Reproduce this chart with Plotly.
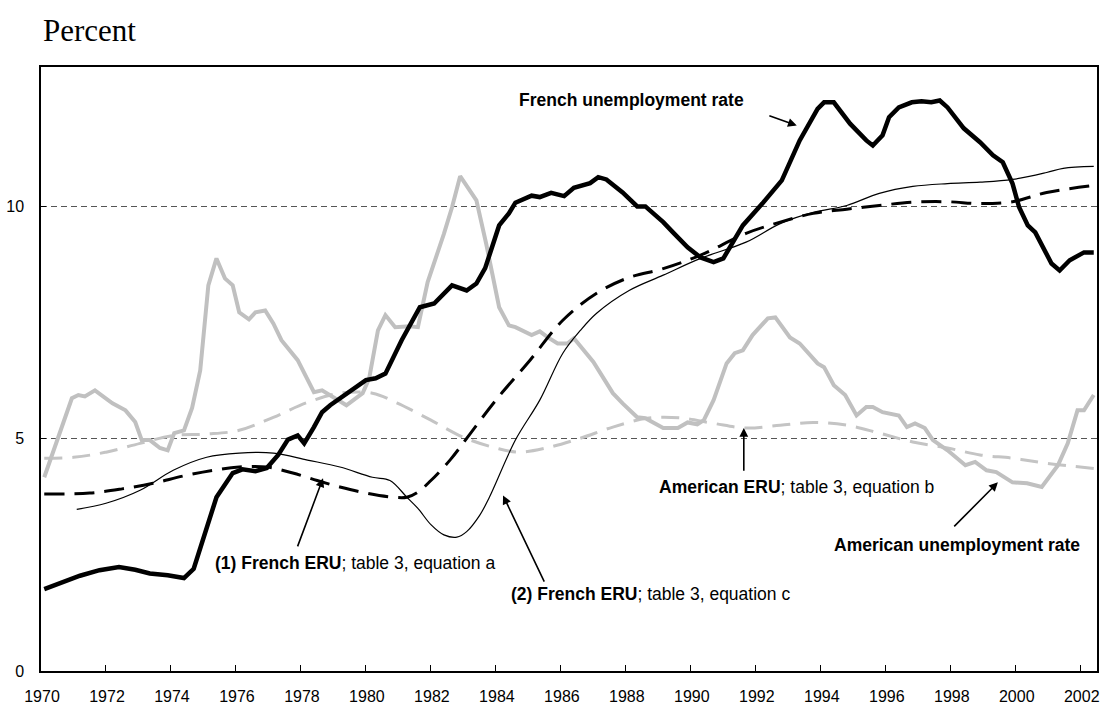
import plotly.graph_objects as go

SANS = "Liberation Sans Narrow, Arial Narrow, Liberation Sans, Arial, sans-serif"
SERIF = "Liberation Serif, Times New Roman, serif"

# French unemployment rate (thick black)
fr_years = [1970.1, 1970.6, 1971.2, 1971.8, 1972.4, 1972.9, 1973.35, 1973.9, 1974.4, 1974.7,
            1975.0, 1975.4, 1975.9, 1976.2, 1976.6, 1976.95, 1977.3, 1977.6, 1977.9, 1978.1,
            1978.4, 1978.65, 1978.9, 1979.27, 1979.7, 1980.0, 1980.3, 1980.6, 1981.1, 1981.66,
            1982.1, 1982.65, 1983.1, 1983.4, 1983.67, 1984.1, 1984.4, 1984.6, 1985.1, 1985.35,
            1985.7, 1986.1, 1986.4, 1986.9, 1987.15, 1987.4, 1987.9, 1988.35, 1988.6, 1989.15,
            1989.45, 1989.9, 1990.3, 1990.7, 1991.0, 1991.2, 1991.6, 1992.2, 1992.8, 1993.35,
            1993.9, 1994.1, 1994.4, 1994.9, 1995.1, 1995.4, 1995.6, 1995.9, 1996.1, 1996.4,
            1996.8, 1997.1, 1997.4, 1997.66, 1997.9, 1998.4, 1998.9, 1999.3, 1999.6, 1999.9,
            2000.1, 2000.37, 2000.6, 2001.1, 2001.35, 2001.66, 2002.1, 2002.4]
fr_rate = [1.76, 1.9, 2.05, 2.17, 2.24, 2.18, 2.1, 2.06, 2.0, 2.2,
           2.88, 3.74, 4.26, 4.34, 4.3, 4.37, 4.65, 4.98, 5.07, 4.9,
           5.25, 5.57, 5.72, 5.9, 6.1, 6.26, 6.3, 6.4, 7.12, 7.83,
           7.91, 8.3, 8.19, 8.34, 8.67, 9.59, 9.85, 10.08, 10.23, 10.2,
           10.29, 10.22, 10.4, 10.5, 10.63, 10.58, 10.3, 10.0, 10.0, 9.66,
           9.44, 9.12, 8.9, 8.8, 8.88, 9.12, 9.59, 10.06, 10.56, 11.42,
           12.1, 12.24, 12.24, 11.78, 11.63, 11.42, 11.31, 11.53, 11.92, 12.13,
           12.24, 12.26, 12.24, 12.28, 12.13, 11.68, 11.38, 11.1, 10.95, 10.49,
           9.99, 9.59, 9.44, 8.77, 8.62, 8.84, 9.01, 9.01]

# American unemployment rate (thick grey)
us_years = [1970.1, 1970.37, 1970.95, 1971.15, 1971.35, 1971.66, 1972.2, 1972.6, 1972.9, 1973.1,
            1973.35, 1973.66, 1973.9, 1974.1, 1974.4, 1974.65, 1974.9, 1975.15, 1975.4, 1975.66,
            1975.9, 1976.1, 1976.4, 1976.6, 1976.9, 1977.15, 1977.4, 1977.9, 1978.4, 1978.65,
            1978.9, 1979.4, 1979.9, 1980.1, 1980.37, 1980.6, 1980.9, 1981.35, 1981.6, 1981.9,
            1982.4, 1982.65, 1982.9, 1983.4, 1983.7, 1984.1, 1984.4, 1984.6, 1985.1, 1985.35,
            1985.6, 1985.9, 1986.2, 1986.4, 1987.0, 1987.6, 1987.9, 1988.35, 1988.6, 1989.15,
            1989.6, 1989.9, 1990.2, 1990.4, 1990.7, 1991.1, 1991.35, 1991.6, 1991.9, 1992.37,
            1992.6, 1993.05, 1993.35, 1993.9, 1994.1, 1994.4, 1994.75, 1995.1, 1995.4, 1995.6,
            1995.9, 1996.4, 1996.65, 1996.9, 1997.2, 1997.45, 1997.9, 1998.3, 1998.45, 1998.75,
            1999.1, 1999.4, 1999.9, 2000.35, 2000.8, 2001.3, 2001.6, 2001.9, 2002.1, 2002.4]
us_rate = [4.17, 4.69, 5.87, 5.94, 5.91, 6.04, 5.76, 5.61, 5.36, 4.97,
           4.97, 4.8, 4.75, 5.12, 5.18, 5.66, 6.47, 8.3, 8.88, 8.45,
           8.3, 7.72, 7.57, 7.72, 7.76, 7.48, 7.12, 6.69, 6.0, 6.04,
           5.94, 5.72, 5.98, 6.3, 7.33, 7.66, 7.4, 7.42, 7.4, 8.37,
           9.41, 9.98, 10.65, 10.13, 9.2, 7.83, 7.44, 7.4, 7.23, 7.31,
           7.18, 7.05, 7.05, 7.16, 6.65, 5.98, 5.76, 5.46, 5.44, 5.23,
           5.23, 5.35, 5.31, 5.4, 5.83, 6.62, 6.84, 6.9, 7.23, 7.59,
           7.61, 7.18, 7.05, 6.62, 6.54, 6.15, 5.94, 5.5, 5.68, 5.68,
           5.57, 5.5, 5.25, 5.33, 5.23, 4.97, 4.75, 4.5, 4.43, 4.5,
           4.32, 4.28, 4.06, 4.04, 3.96, 4.43, 4.9, 5.61, 5.61, 5.94]

# (1) French ERU, table 3 equation a (thick dashed black)
eru_a_years = [1970.1, 1971.5, 1972.5, 1973.45, 1974.4, 1975.3, 1976.1, 1976.95, 1977.75, 1978.5,
               1979.2, 1980.0, 1980.85, 1981.26, 1981.6, 1982.0, 1982.6, 1983.2, 1984.0, 1985.05,
               1986.06, 1987.1, 1988.1, 1989.15, 1990.3, 1991.7, 1992.75, 1993.77, 1994.8, 1995.8,
               1996.83, 1997.9, 1998.9, 1999.9, 2000.95, 2002.4]
eru_a = [3.81, 3.83, 3.92, 4.04, 4.2, 4.32, 4.39, 4.39, 4.26, 4.1,
         3.96, 3.83, 3.74, 3.74, 3.85, 4.1, 4.55, 5.1, 5.83, 6.69,
         7.55, 8.13, 8.47, 8.66, 8.95, 9.42, 9.66, 9.85, 9.94, 10.02,
         10.09, 10.1, 10.06, 10.1, 10.3, 10.45]

# (2) French ERU, table 3 equation c (thin black)
eru_c_years = [1971.1, 1972.0, 1973.05, 1974.07, 1975.1, 1976.1, 1977.15, 1978.2, 1979.2, 1980.2,
               1980.74, 1981.26, 1981.6, 1982.0, 1982.4, 1982.8, 1983.1, 1983.5, 1983.8, 1984.6,
               1985.35, 1986.06, 1986.6, 1987.1, 1988.1, 1989.15, 1990.3, 1991.7, 1992.75, 1993.77,
               1994.8, 1995.8, 1996.83, 1997.9, 1998.9, 1999.9, 2000.95, 2001.46, 2002.4]
eru_c = [3.48, 3.61, 3.89, 4.32, 4.6, 4.69, 4.69, 4.54, 4.39, 4.17,
         4.1, 3.74, 3.5, 3.15, 2.93, 2.88, 3.0, 3.35, 3.74, 4.97,
         5.83, 6.84, 7.33, 7.7, 8.19, 8.52, 8.88, 9.23, 9.63, 9.87,
         10.02, 10.28, 10.43, 10.49, 10.52, 10.58, 10.73, 10.82, 10.86]

# American ERU, table 3 equation b (dashed grey)
us_eru_years = [1970.1, 1971.0, 1972.0, 1973.05, 1974.07, 1975.1, 1976.1, 1977.15, 1978.2, 1979.2,
                1980.2, 1980.95, 1982.0, 1983.0, 1984.0, 1984.7, 1985.55, 1986.6, 1987.6, 1988.65,
                1989.66, 1990.7, 1991.7, 1992.75, 1993.77, 1994.8, 1995.8, 1996.83, 1997.9, 1998.9,
                1999.9, 2000.95, 2002.4]
us_eru = [4.58, 4.6, 4.71, 4.9, 5.07, 5.1, 5.18, 5.46, 5.78, 5.98,
          5.98, 5.77, 5.4, 5.03, 4.8, 4.71, 4.8, 5.01, 5.25, 5.44,
          5.45, 5.33, 5.23, 5.29, 5.35, 5.29, 5.12, 4.93, 4.8, 4.65,
          4.58, 4.47, 4.36]

x_ticks = list(range(1970, 2003, 2))
y_ticks = [0, 5, 10]

fig = go.Figure()
fig.add_trace(go.Scatter(x=us_eru_years, y=us_eru, mode="lines", line_shape="spline",
                         line=dict(color="#c4c4c4", width=3, dash="18px,10px")))
fig.add_trace(go.Scatter(x=us_years, y=us_rate, mode="lines",
                         line=dict(color="#c0c0c0", width=4)))
fig.add_trace(go.Scatter(x=eru_c_years, y=eru_c, mode="lines", line_shape="spline",
                         line=dict(color="black", width=1.2)))
fig.add_trace(go.Scatter(x=eru_a_years, y=eru_a, mode="lines", line_shape="spline",
                         line=dict(color="black", width=3, dash="20px,10px")))
fig.add_trace(go.Scatter(x=fr_years, y=fr_rate, mode="lines",
                         line=dict(color="black", width=4.5)))

# label text, left edge (year), middle (percent)
labels = [
    ("<b>French unemployment rate</b>", 1984.65, 12.28),
    ("<b>American ERU</b>; table 3, equation b", 1988.95, 3.96),
    ("<b>American unemployment rate</b>", 1994.34, 2.71),
    ("<b>(1) French ERU</b>; table 3, equation a", 1975.29, 2.32),
    ("<b>(2) French ERU</b>; table 3, equation c", 1984.4, 1.66),
]
for text, lx, ly in labels:
    fig.add_annotation(x=lx, y=ly, text=text, showarrow=False, xanchor="left",
                       yanchor="middle", font=dict(family=SANS, size=17.5, color="black"))

# arrows: head x, head y, tail x, tail y
arrows = [
    (1993.26, 11.74, 1992.37, 11.96),
    (1991.63, 5.23, 1991.63, 4.28),
    (1999.45, 4.06, 1998.06, 3.08),
    (1978.68, 4.15, 1977.88, 2.65),
    (1984.22, 3.78, 1985.51, 1.89),
]
for hx, hy, tx, ty in arrows:
    fig.add_annotation(x=hx, y=hy, ax=tx, ay=ty, xref="x", yref="y", axref="x", ayref="y",
                       text="", showarrow=True, arrowhead=2, arrowsize=1.1, arrowwidth=1.6,
                       arrowcolor="black")

fig.add_annotation(x=0, y=1.061, xref="paper", yref="paper", text="Percent", showarrow=False,
                   xanchor="left", yanchor="middle",
                   font=dict(family=SERIF, size=31, color="black"))

fig.update_layout(
    width=1104, height=709,
    margin=dict(l=41, r=7, t=67, b=38, autoexpand=False),
    paper_bgcolor="white", plot_bgcolor="white",
    showlegend=False,
    font=dict(family=SANS, size=16, color="black"),
)
fig.update_xaxes(
    range=[1970, 2002.5], tickvals=x_ticks, ticktext=[str(v) for v in x_ticks],
    ticks="inside", ticklen=6, tickcolor="black", showgrid=False, zeroline=False,
    showline=True, linecolor="black", linewidth=1.5, mirror=True, automargin=False,
    ticklabelstandoff=10, ticklabelshift=1, tickfont=dict(family=SANS, size=16),
)
fig.update_yaxes(
    range=[0, 13], tickvals=y_ticks, ticktext=[str(v) for v in y_ticks],
    ticks="inside", ticklen=5, tickcolor="black", showgrid=True,
    gridcolor="#555555", gridwidth=1, griddash="6px,4px", zeroline=False,
    showline=True, linecolor="black", linewidth=1.5, mirror=True, automargin=False,
    ticklabelstandoff=12, tickfont=dict(family=SANS, size=16),
)

fig.write_html("out.html", config={"displayModeBar": False},
               post_script="document.body.style.margin='0';")
